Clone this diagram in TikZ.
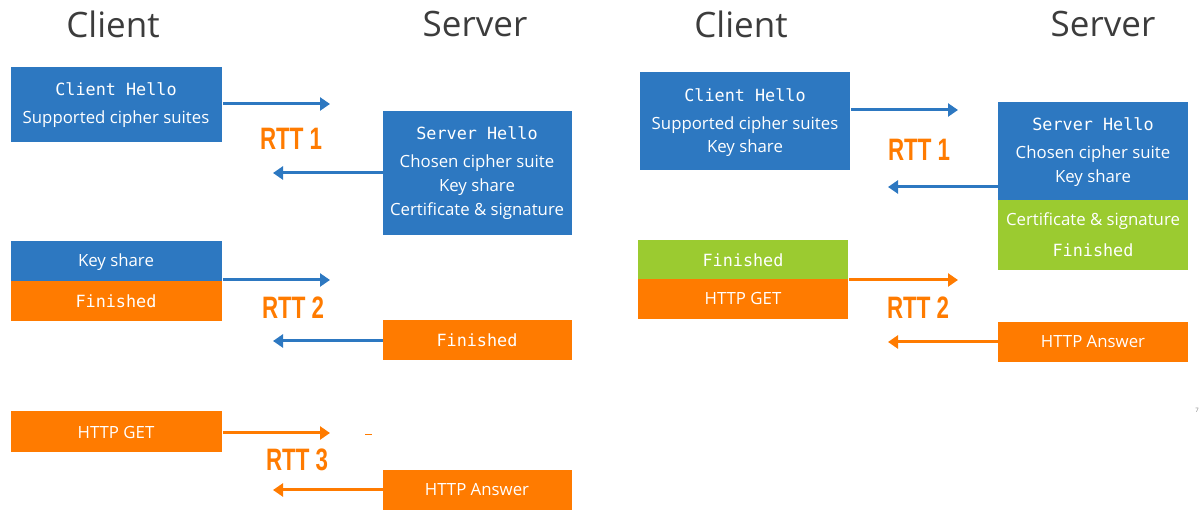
\documentclass[tikz,border=0pt]{standalone}
\usepackage{fontspec}
\usepackage{graphicx}
\setmainfont{Open Sans}
\newfontfamily\monof{DejaVu Sans Mono}
\newfontfamily\rttf{Liberation Sans}
\usetikzlibrary{arrows.meta}
\definecolor{tblue}{HTML}{2D78C1}
\definecolor{torange}{HTML}{FF7B00}
\definecolor{tgreen}{HTML}{9BCB30}
\definecolor{ttitle}{HTML}{3C3C3C}
\begin{document}
\begin{tikzpicture}[x=0.5pt,y=-0.5pt,
  bx/.style n args={2}{rectangle, inner sep=0pt, anchor=north west, minimum width=#1*0.5pt, minimum height=#2*0.5pt},
  bluebox/.style={fill=tblue},
  orangebox/.style={fill=torange},
  greenbox/.style={fill=tgreen},
  txt/.style={text=white, inner sep=0pt, font=\fontsize{8.4}{10}\selectfont},
  mono/.style={text=white, inner sep=0pt, font=\monof\fontsize{8.4}{10}\selectfont},
  rtt/.style={text=torange, inner sep=0pt, font=\rttf\bfseries\fontsize{15.5}{18}\selectfont},
  ttl/.style={text=ttitle, inner sep=0pt, font=\fontsize{17.5}{20}\selectfont},
  arr/.style={line width=1.5pt, -{Triangle[length=5pt,width=6.5pt]}},
  bluearr/.style={arr, draw=tblue},
  orangearr/.style={arr, draw=torange}
]
\useasboundingbox (0,0) rectangle (1200,522);

% ===== Left panel =====
\node[ttl] (lct) at (113,24) {Client};
\node[ttl] (lst) at (475,24) {Server};

\node[bx={211}{75}, bluebox] (lch) at (11,67) {};
\node[mono] (lch1) at (116,89) {Client Hello};
\node[txt] (lch2) at (116,119) {Supported cipher suites};

\node[bx={189}{124}, bluebox] (lsh) at (383,111) {};
\node[mono] (lsh1) at (477,133) {Server Hello};
\node[txt] (lsh2) at (477,163) {Chosen cipher suite};
\node[txt] (lsh3) at (477,187) {Key share};
\node[txt] (lsh4) at (477,211) {Certificate \& signature};

\node[bx={211}{40}, bluebox] (lks) at (11,241) {};
\node[txt] (lks1) at (116,262) {Key share};
\node[bx={211}{40}, orangebox] (lcf) at (11,281) {};
\node[mono] (lcf1) at (116,301) {Finished};

\node[bx={189}{40}, orangebox] (lsf) at (383,320) {};
\node[mono] (lsf1) at (477,340) {Finished};

\node[bx={211}{41}, orangebox] (lget) at (11,411) {};
\node[txt] (lget1) at (116,433) {HTTP GET};

\node[bx={189}{40}, orangebox] (lans) at (383,470) {};
\node[txt] (lans1) at (477,490) {HTTP Answer};

\coordinate (la1) at (330,104);
\coordinate (la2) at (273,173);
\coordinate (la3) at (330,280);
\coordinate (la4) at (273,341);
\coordinate (la5) at (330,433);
\coordinate (la6) at (273,490);
\draw[bluearr] (lch.east |- la1) -- (la1);
\draw[bluearr] (lsh.west |- la2) -- (la2);
\draw[bluearr] (lks.east |- la3) -- (la3);
\draw[bluearr] (lsf.west |- la4) -- (la4);
\draw[orangearr] (lget.east |- la5) -- (la5);
\draw[orangearr] (lans.west |- la6) -- (la6);

\node[rtt] (lr1) at (291,139) {\scalebox{0.72}[1]{RTT 1}};
\node[rtt] (lr2) at (293,308) {\scalebox{0.72}[1]{RTT 2}};
\node[rtt] (lr3) at (297,460) {\scalebox{0.72}[1]{RTT 3}};

\coordinate (dsa) at (365,435);
\coordinate (dsb) at (372,435);
\draw[torange, line width=0.5pt] (dsa) -- (dsb);

% ===== Right panel =====
\node[ttl] (rct) at (741,24) {Client};
\node[ttl] (rst) at (1103,24) {Server};

\node[bx={210}{98}, bluebox] (rch) at (640,72) {};
\node[mono] (rch1) at (745,95) {Client Hello};
\node[txt] (rch2) at (745,125) {Supported cipher suites};
\node[txt] (rch3) at (745,148) {Key share};

\node[bx={190}{98}, bluebox] (rsh) at (998,102) {};
\node[mono] (rsh1) at (1093,124) {Server Hello};
\node[txt] (rsh2) at (1093,154) {Chosen cipher suite};
\node[txt] (rsh3) at (1093,178) {Key share};
\node[bx={190}{70}, greenbox] (rsg) at (998,200) {};
\node[txt] (rsg1) at (1093,221) {Certificate \& signature};
\node[mono] (rsg2) at (1093,250) {Finished};

\node[bx={210}{39}, greenbox] (rcf) at (638,240) {};
\node[mono] (rcf1) at (743,260) {Finished};
\node[bx={210}{40}, orangebox] (rget) at (638,279) {};
\node[txt] (rget1) at (743,299) {HTTP GET};

\node[bx={190}{40}, orangebox] (rans) at (998,322) {};
\node[txt] (rans1) at (1093,342) {HTTP Answer};

\coordinate (ra1) at (958,110);
\coordinate (ra2) at (888,187);
\coordinate (ra3) at (958,280);
\coordinate (ra4) at (888,342);
\draw[bluearr] (rch.east |- ra1) -- (ra1);
\draw[bluearr] (rsh.west |- ra2) -- (ra2);
\draw[orangearr] (rget.east |- ra3) -- (ra3);
\draw[orangearr] (rans.west |- ra4) -- (ra4);

\node[rtt] (rr1) at (919,150) {\scalebox{0.72}[1]{RTT 1}};
\node[rtt] (rr2) at (918,308) {\scalebox{0.72}[1]{RTT 2}};

\node[text=gray, inner sep=0pt, font=\fontsize{3}{3}\selectfont] (pg) at (1197,410) {7};
\end{tikzpicture}
\end{document}
